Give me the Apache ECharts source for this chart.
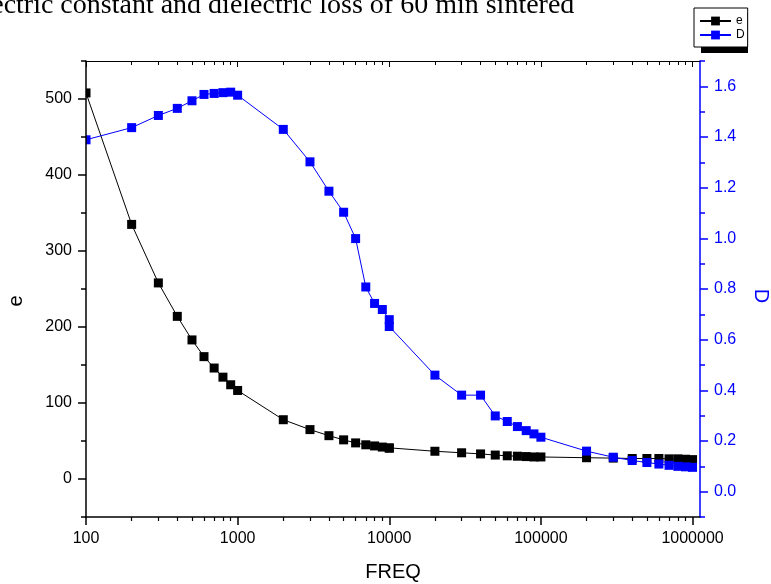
<!DOCTYPE html>
<html>
<head>
<meta charset="utf-8">
<script src="https://cdn.jsdelivr.net/npm/echarts@6/dist/echarts.min.js"></script>
<style>
  html, body { margin: 0; padding: 0; background: #fff; }
  #chart { width: 771px; height: 584px; }
</style>
</head>
<body>
<div id="chart"></div>
<script>
// Measurement frequencies (Hz); 10 kHz was recorded twice
const freq = [100, 200, 300, 400, 500, 600, 700, 800, 900, 1000,
  2000, 3000, 4000, 5000, 6000, 7000, 8000, 9000, 10000, 10000,
  20000, 30000, 40000, 50000, 60000, 70000, 80000, 90000, 100000,
  200000, 300000, 400000, 500000, 600000, 700000, 800000, 900000, 1000000];

// Dielectric constant
const eValues = [508, 335, 258, 214, 183, 161, 146, 134, 124, 116.5,
  78, 65, 57, 51.5, 47.5, 45, 43.5, 42, 41, 40.5,
  36.5, 34.5, 33, 31.5, 30.5, 30, 29.5, 29, 29,
  28, 27.5, 27, 27, 27, 26.5, 26.5, 26, 25.5];

// Dielectric loss
const dValues = [1.389, 1.437, 1.485, 1.513, 1.543, 1.568, 1.572, 1.575, 1.577, 1.565,
  1.430, 1.302, 1.186, 1.103, 0.999, 0.808, 0.743, 0.719, 0.679, 0.652,
  0.460, 0.381, 0.381, 0.299, 0.277, 0.257, 0.241, 0.228, 0.215,
  0.160, 0.136, 0.123, 0.115, 0.109, 0.104, 0.100, 0.098, 0.096];

// Tick positions
const freqMajor = [100, 1000, 10000, 100000, 1000000];
const freqMinor = [];
for (const decade of [100, 1000, 10000, 100000]) {
  for (let k = 2; k <= 9; k++) freqMinor.push(k * decade);
}
const eMajor = [0, 100, 200, 300, 400, 500];
const eMinor = [-50, 50, 150, 250, 350, 450, 550];
const dMajor = [0, 0.2, 0.4, 0.6, 0.8, 1.0, 1.2, 1.4, 1.6];
const dMinor = [-0.1, 0.1, 0.3, 0.5, 0.7, 0.9, 1.1, 1.3, 1.5, 1.7];

const FONT = 'Arial, "Liberation Sans", sans-serif';
const SERIF = '"Times New Roman", "Liberation Serif", serif';
const BLUE = '#0000ff';
const GRID = { left: 86, top: 61, width: 614, height: 456 };
const X_MIN = 100, X_MAX = 1.12e6;

const chart = echarts.init(document.getElementById('chart'), null, { renderer: 'canvas' });

// axes live on an upper layer so they sit above the edge mask
const logX = (extra) => Object.assign({
  type: 'log', logBase: 10, min: X_MIN, max: X_MAX,
  splitLine: { show: false }, minorTick: { show: false }, minorSplitLine: { show: false },
  zlevel: 1, z: 10
}, extra);

const valY = (extra) => Object.assign({
  type: 'value', scale: false,
  splitLine: { show: false }, minorTick: { show: false },
  zlevel: 1, z: 10
}, extra);

chart.setOption({
  animation: false,
  backgroundColor: '#fff',
  grid: Object.assign({ containLabel: false, outerBoundsMode: 'none' }, GRID),
  legend: {
    orient: 'vertical',
    left: 694, top: 8,
    padding: [7, 3, 6, 5],
    itemGap: 2,
    itemWidth: 31, itemHeight: 11,
    backgroundColor: '#fff',
    borderColor: '#000', borderWidth: 1,
    selectedMode: false,
    textStyle: { fontSize: 12, color: '#000', fontFamily: FONT },
    data: ['e', 'D'],
    zlevel: 2, z: 20
  },
  xAxis: [
    logX({
      position: 'bottom',
      axisLine: { show: true, onZero: false, lineStyle: { color: '#000', width: 1.5 } },
      axisTick: { show: true, inside: false, length: 8, customValues: freqMajor, lineStyle: { color: '#000', width: 1.5 } },
      axisLabel: { show: true, customValues: freqMajor, formatter: v => String(Math.round(v)),
        fontSize: 16, color: '#000', fontFamily: FONT, margin: 14 },
      name: 'FREQ', nameLocation: 'middle', nameGap: 45,
      nameTextStyle: { fontSize: 20, color: '#000', fontFamily: FONT }
    }),
    logX({
      position: 'top',
      axisLine: { show: true, onZero: false, lineStyle: { color: '#000', width: 1 } },
      axisTick: { show: true, inside: true, length: 6, customValues: freqMajor, lineStyle: { color: '#000', width: 1 } },
      axisLabel: { show: false }
    }),
    logX({
      position: 'bottom',
      axisLine: { show: false, onZero: false },
      axisTick: { show: true, inside: false, length: 4, customValues: freqMinor, lineStyle: { color: '#000', width: 1.2 } },
      axisLabel: { show: false }
    }),
    logX({
      position: 'top',
      axisLine: { show: false, onZero: false },
      axisTick: { show: true, inside: true, length: 4, customValues: freqMinor, lineStyle: { color: '#000', width: 1 } },
      axisLabel: { show: false }
    })
  ],
  yAxis: [
    valY({
      position: 'left', min: -50, max: 550,
      axisLine: { show: true, onZero: false, lineStyle: { color: '#000', width: 1.5 } },
      axisTick: { show: true, inside: false, length: 8, customValues: eMajor, lineStyle: { color: '#000', width: 1.5 } },
      axisLabel: { show: true, customValues: eMajor, fontSize: 16, color: '#000', fontFamily: FONT, margin: 14 }
    }),
    valY({
      position: 'right', min: -0.1, max: 1.7,
      axisLine: { show: true, onZero: false, lineStyle: { color: BLUE, width: 1.5 } },
      axisTick: { show: true, inside: false, length: 8, customValues: dMajor, lineStyle: { color: BLUE, width: 1.5 } },
      axisLabel: { show: true, customValues: dMajor, formatter: v => v.toFixed(1),
        fontSize: 16, color: BLUE, fontFamily: FONT, margin: 14 }
    }),
    valY({
      position: 'left', min: -50, max: 550,
      axisLine: { show: false, onZero: false },
      axisTick: { show: true, inside: false, length: 5, customValues: eMinor, lineStyle: { color: '#000', width: 1.5 } },
      axisLabel: { show: false }
    }),
    valY({
      position: 'right', min: -0.1, max: 1.7,
      axisLine: { show: false, onZero: false },
      axisTick: { show: true, inside: false, length: 5, customValues: dMinor, lineStyle: { color: BLUE, width: 1.5 } },
      axisLabel: { show: false }
    })
  ],
  series: [
    {
      name: 'e', type: 'line', xAxisIndex: 0, yAxisIndex: 0,
      data: freq.map((f, i) => [f, eValues[i]]),
      symbol: 'rect', symbolSize: 9, showSymbol: true, showAllSymbol: true,
      itemStyle: { color: '#000' },
      lineStyle: { color: '#000', width: 1 },
      clip: true, z: 2
    },
    {
      name: 'D', type: 'line', xAxisIndex: 0, yAxisIndex: 1,
      data: freq.map((f, i) => [f, dValues[i]]),
      symbol: 'rect', symbolSize: 9, showSymbol: true, showAllSymbol: true,
      itemStyle: { color: BLUE },
      lineStyle: { color: BLUE, width: 1 },
      clip: true, z: 3
    }
  ],
  graphic: [
    // drop shadow behind the legend box
    { type: 'rect', shape: { x: 701, y: 13, width: 47, height: 40 }, style: { fill: '#000' }, zlevel: 2, z: 1 },
    // keep markers from spilling left of the frame
    { type: 'rect', shape: { x: GRID.left - 10, y: GRID.top, width: 10, height: GRID.height },
      style: { fill: '#fff' }, zlevel: 1, z: 0 },
    { type: 'text', x: -29, y: 6, z: 20,
      style: { text: 'electric constant and dielectric loss of 60 min sintered',
        fontSize: 28, fontFamily: SERIF, fill: '#000', verticalAlign: 'middle' } },
    { type: 'text', x: 16, y: 301, rotation: Math.PI / 2, z: 20,
      style: { text: 'e', fontSize: 20, fontFamily: FONT, fill: '#000', align: 'center', verticalAlign: 'middle' } },
    { type: 'text', x: 761, y: 296, rotation: -Math.PI / 2, z: 20,
      style: { text: 'D', fontSize: 20, fontFamily: FONT, fill: BLUE, align: 'center', verticalAlign: 'middle' } }
  ]
});
</script>
</body>
</html>
